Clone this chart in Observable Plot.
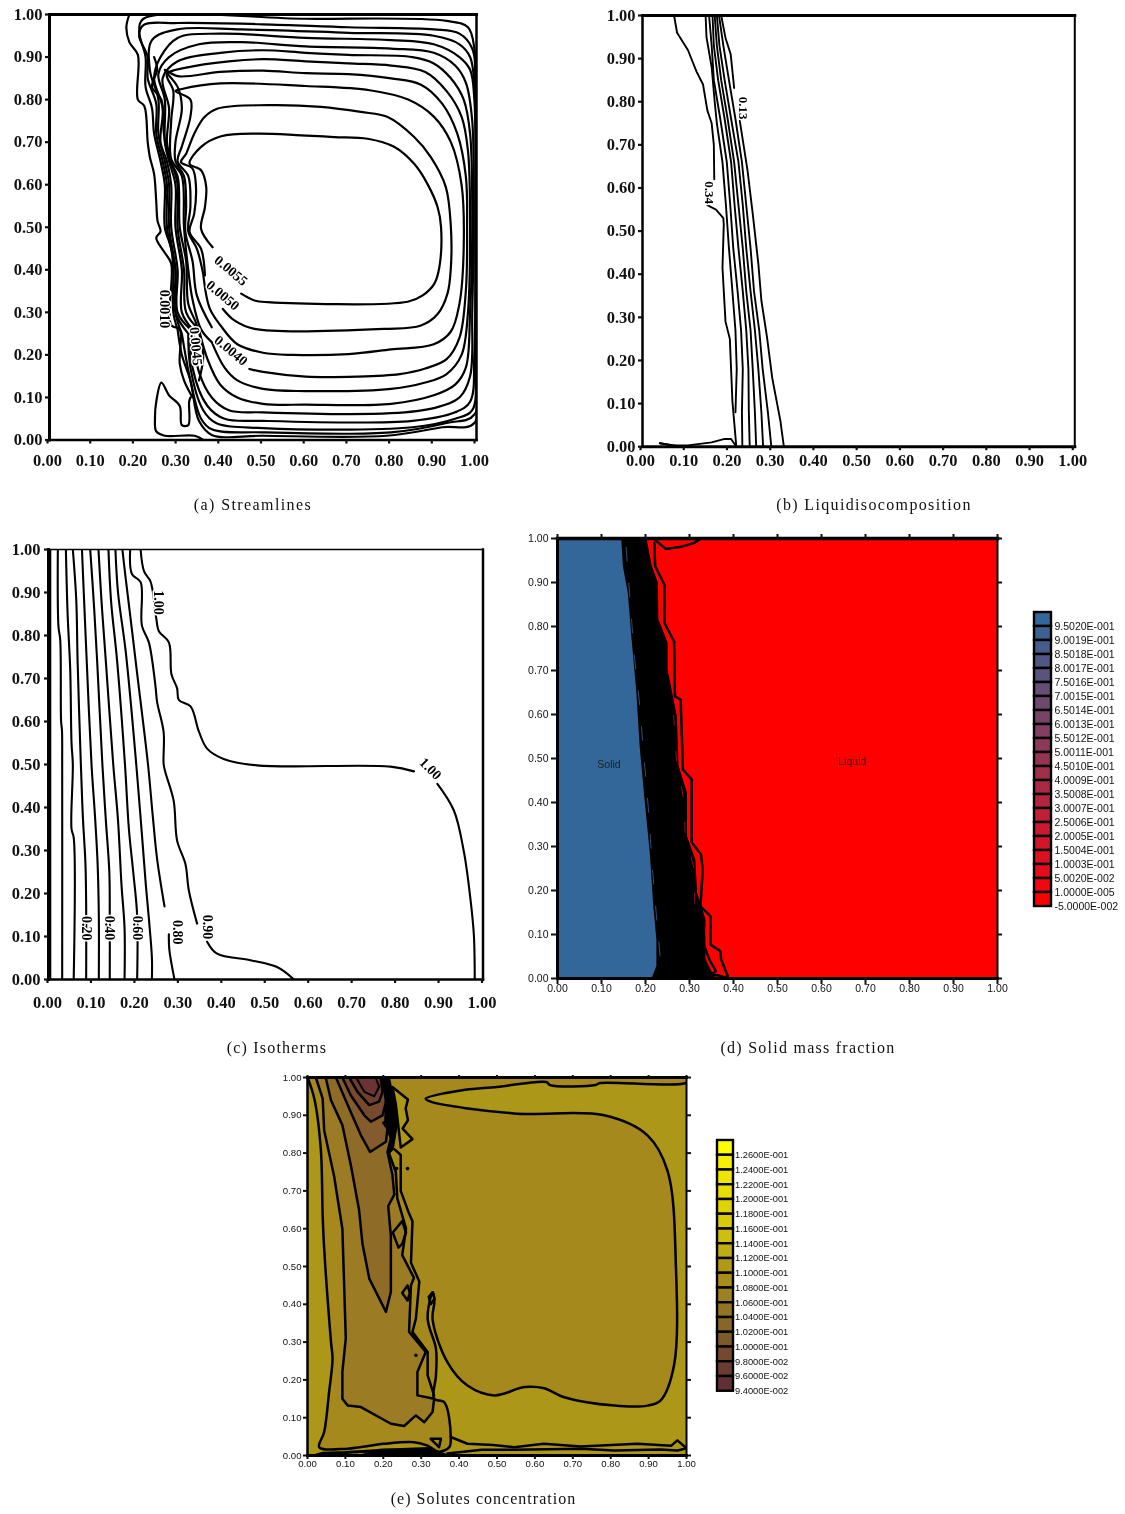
<!DOCTYPE html>
<html><head><meta charset="utf-8">
<script src="https://cdn.jsdelivr.net/npm/d3@7"></script>
<script src="https://cdn.jsdelivr.net/npm/@observablehq/plot@0.6"></script>
<style>
html,body{margin:0;padding:0;background:#fff}
#page{position:relative;width:1125px;height:1514px;overflow:hidden;filter:blur(.4px)}
#page svg{position:absolute;overflow:visible;background:transparent}
.cap{position:absolute;font-family:"Liberation Serif",serif;font-size:16px;line-height:18px;color:#111;white-space:nowrap;transform:translateX(-50%)}
</style></head><body><div id="page"></div>
<script>
const tickValues=[0,.1,.2,.3,.4,.5,.6,.7,.8,.9,1];

/* (a) Streamlines */
const aOuter=[[.187,1],[.18,.97],[.187,.935],[.207,.905],[.207,.8],[.222,.785],[.23,.7],[.235,.665],[.245,.625],[.25,.56],[.253,.515],[.26,.49],[.25,.475],[.27,.44],[.285,.415],[.285,.27],[.305,.26],[.305,.18],[.315,.14],[.335,.1]];
const aBump=[[.33,.1],[.327,.09],[.325,.035],[.31,.035],[.305,.08],[.28,.105],[.262,.135],[.25,.09],[.247,.05],[.25,.02],[.27,.01],[.34,.01],[.36,0]];
const aLoop1=[[.449,.344],[.48,.328],[.511,.324],[.839,.325],[.874,.34],[.901,.367],[.913,.406],[.917,.5],[.909,.547],[.885,.602],[.854,.649],[.807,.689],[.745,.708],[.667,.712],[.589,.716],[.488,.72],[.402,.714],[.355,.689],[.328,.649],[.355,.634],[.367,.595],[.364,.547],[.355,.496],[.382,.453]];
const aLoop2=[[.406,.308],[.433,.281],[.48,.261],[.784,.261],[.87,.269],[.909,.296],[.932,.344],[.94,.406],[.94,.5],[.928,.595],[.893,.665],[.854,.712],[.792,.759],[.729,.771],[.636,.783],[.511,.787],[.394,.779],[.363,.759],[.339,.72],[.32,.673],[.308,.653],[.335,.638],[.343,.595],[.339,.532],[.328,.489],[.355,.449],[.364,.387]];
const aLoop3=[[.36,.39],[.375,.31],[.4,.27],[.44,.225],[.5,.205],[.57,.2],[.7,.202],[.8,.213],[.9,.225],[.94,.255],[.96,.32],[.97,.45],[.965,.6],[.94,.7],[.9,.76],[.84,.8],[.75,.822],[.6,.832],[.4,.838],[.31,.825],[.295,.82],[.33,.8],[.33,.76],[.31,.69],[.3,.655],[.325,.62],[.33,.55],[.325,.49],[.345,.45],[.36,.39]];
const aLoop4=[[.468,.167],[.5,.16],[.6,.149],[.72,.149],[.82,.155],[.88,.168],[.93,.19],[.96,.24],[.975,.35],[.978,.5],[.975,.62],[.955,.72],[.92,.79],[.87,.835],[.8,.85],[.7,.86],[.6,.862],[.5,.868],[.4,.865],[.3,.855],[.27,.87],[.3,.83],[.31,.78],[.295,.7],[.295,.655],[.315,.62],[.32,.55],[.318,.49],[.335,.42],[.345,.34],[.38,.265]];
const aLoop5=[[.38,.23],[.41,.17],[.44,.14],[.5,.12],[.6,.115],[.8,.12],[.88,.135],[.93,.155],[.965,.2],[.98,.3],[.985,.5],[.98,.68],[.965,.76],[.93,.82],[.88,.865],[.8,.88],[.7,.885],[.6,.89],[.5,.895],[.42,.89],[.32,.875],[.275,.86],[.29,.82],[.285,.75],[.285,.66],[.31,.62],[.315,.5],[.325,.4],[.335,.33],[.355,.26],[.38,.23]];
const aLoop6=[[.35,.26],[.37,.19],[.4,.13],[.44,.1],[.5,.085],[.6,.083],[.8,.085],[.9,.105],[.95,.13],[.975,.17],[.985,.3],[.99,.5],[.985,.72],[.97,.8],[.94,.85],[.9,.885],[.85,.9],[.7,.905],[.6,.91],[.5,.916],[.4,.91],[.3,.89],[.265,.85],[.28,.78],[.275,.7],[.285,.655],[.3,.6],[.3,.5],[.315,.4],[.32,.3],[.35,.26]];
const aLoop7=[[.335,.26],[.35,.16],[.38,.1],[.42,.07],[.5,.065],[.8,.063],[.9,.075],[.96,.1],[.985,.15],[.99,.3],[.993,.5],[.99,.75],[.975,.84],[.95,.88],[.9,.91],[.8,.92],[.6,.925],[.45,.935],[.35,.93],[.28,.9],[.255,.86],[.27,.8],[.27,.7],[.28,.655],[.295,.6],[.295,.5],[.31,.4],[.31,.3],[.335,.26]];
const aLoop8=[[.33,.26],[.335,.17],[.37,.08],[.41,.05],[.5,.045],[.85,.045],[.95,.065],[.985,.09],[.995,.2],[.997,.5],[.995,.8],[.985,.87],[.96,.9],[.9,.93],[.8,.94],[.6,.945],[.4,.955],[.3,.945],[.26,.9],[.245,.85],[.265,.78],[.26,.7],[.275,.655],[.285,.6],[.285,.5],[.3,.4],[.3,.3],[.33,.26]];
const aLoop9=[[.325,.25],[.33,.17],[.36,.07],[.39,.04],[.5,.028],[.85,.03],[.95,.05],[.99,.07],[.997,.2],[.998,.5],[.997,.8],[.985,.9],[.96,.93],[.9,.95],[.7,.957],[.45,.965],[.3,.965],[.24,.94],[.235,.87],[.255,.8],[.255,.72],[.27,.655],[.28,.6],[.28,.5],[.295,.4],[.295,.3],[.325,.25]];
const aLoop10=[[.31,.25],[.33,.14],[.355,.05],[.38,.025],[.5,.018],[.8,.018],[.93,.04],[.995,.06],[.998,.3],[.997,.8],[.99,.92],[.96,.955],[.9,.965],[.7,.97],[.5,.977],[.3,.98],[.22,.975],[.21,.95],[.23,.9],[.23,.85],[.25,.79],[.25,.72],[.265,.655],[.275,.6],[.275,.5],[.295,.4],[.295,.3],[.31,.25]];
const aLoop11=[[.3,.26],[.31,.2],[.33,.14],[.35,.045],[.38,.012],[.5,.01],[.79,.01],[.92,.03],[.995,.04],[.999,.3],[.999,.8],[.995,.92],[.98,.97],[.93,.985],[.6,.99],[.22,.99],[.21,.96],[.225,.9],[.225,.83],[.24,.78],[.245,.72],[.26,.655],[.27,.6],[.27,.5],[.285,.45],[.29,.4],[.29,.3],[.3,.26]];
const aTangle=[[.245,.9],[.252,.87],[.24,.83],[.262,.8],[.268,.72],[.28,.66],[.3,.62],[.305,.5],[.32,.42],[.325,.32],[.345,.27],[.36,.2],[.35,.14]];
const streamlines=[aOuter,aBump,aLoop1,aLoop2,aLoop3,aLoop4,aLoop5,aLoop6,aLoop7,aLoop8,aLoop9,aLoop10,aLoop11,aTangle];
const aLabelText=["0.0055","0.0050","0.0040","0.0010","0.0045"];
const aLabelX=[.425,.406,.425,.269,.343];
const aLabelY=[.398,.34,.21,.308,.22];
const aLabelRotate=[40,40,40,90,85];

/* (b) Liquid isocomposition */
const bLine0=[[.073,1],[.08,.96],[.105,.92],[.125,.87],[.14,.84],[.15,.78],[.16,.75],[.165,.7],[.166,.62]];
const bLine1=[[.15,.56],[.17,.55],[.187,.53],[.188,.515],[.185,.415],[.192,.29],[.202,.25],[.208,.105],[.217,0]];
const bLine2=[[.146,1],[.148,.95],[.16,.88],[.167,.8],[.172,.75],[.185,.66],[.193,.56],[.2,.46],[.208,.36],[.215,.27],[.218,.18],[.215,.08]];
const bLine3=[[.154,1],[.16,.93],[.165,.85],[.18,.76],[.195,.66],[.203,.56],[.21,.46],[.22,.36],[.228,.27],[.232,.18],[.23,.08],[.231,0]];
const bLine4=[[.162,1],[.165,.93],[.175,.85],[.19,.76],[.205,.66],[.213,.56],[.222,.46],[.232,.36],[.24,.27],[.245,.18],[.246,.08],[.248,0]];
const bLine5=[[.167,1],[.172,.93],[.182,.85],[.197,.76],[.212,.66],[.222,.56],[.232,.46],[.24,.36],[.25,.27],[.255,.18],[.26,.08],[.263,0]];
const bLine6=[[.172,1],[.178,.93],[.19,.85],[.205,.76],[.222,.66],[.232,.56],[.24,.46],[.25,.36],[.26,.27],[.268,.18],[.275,.08],[.279,0]];
const bLine7=[[.177,1],[.187,.93],[.2,.85],[.215,.76],[.23,.66],[.24,.56],[.25,.46],[.258,.36],[.27,.27],[.278,.18],[.29,.08],[.298,0]];
const bLine8=[[.182,1],[.192,.948],[.204,.91],[.212,.832]];
const bLine9=[[.225,.756],[.243,.64],[.255,.54],[.268,.424],[.275,.339],[.288,.254],[.3,.16],[.319,.06],[.327,0]];
const bFoot=[[.04,.008],[.07,.003],[.105,.003],[.16,.01],[.19,.018],[.205,.018],[.217,0]];
const bFoot2=[[.04,.008],[.09,0]];
const isocomposition=[bLine0,bLine1,bLine2,bLine3,bLine4,bLine5,bLine6,bLine7,bLine8,bLine9,bFoot,bFoot2];
const bLabelText=["0.13","0.34"];
const bLabelX=[.233,.154];
const bLabelY=[.785,.589];
const bLabelRotate=[90,90];

/* (c) Isotherms */
const cWall=[[.003,1],[.003,0]];
const cL1=[[.0215,1],[.023,.82],[.027,.79],[.029,.6],[.031,.58],[.0315,.5],[.0315,0]];
const cL2=[[.04,1],[.044,.85],[.05,.72],[.053,.55],[.056,.5],[.053,.35],[.058,.33],[.058,0]];
const cL3=[[.056,1],[.064,.88],[.067,.74],[.0745,.5],[.079,.38],[.085,.27],[.0867,.17],[.0867,0]];
const cL4=[[.077,1],[.082,.88],[.088,.74],[.099,.5],[.107,.38],[.113,.27],[.1158,.15],[.1158,0]];
const cL5=[[.096,1],[.104,.88],[.112,.74],[.124,.5],[.132,.37],[.14,.25],[.141,.15],[.141,0]];
const cL6=[[.115,1],[.122,.88],[.132,.74],[.149,.5],[.16,.37],[.168,.22],[.175,.12],[.175,0]];
const cL7=[[.138,1],[.144,.88],[.158,.74],[.176,.5],[.185,.35],[.195,.25],[.204,.15],[.204,0]];
const cL8=[[.154,1],[.16,.9],[.178,.76],[.202,.5],[.214,.35],[.224,.22],[.232,.13],[.238,.05],[.238,0]];
const cL9a=[[.17,1],[.178,.93],[.19,.83],[.203,.72],[.229,.5],[.24,.38],[.25,.28],[.267,.17]];
const cL9b=[[.277,.105],[.278,.07],[.29,0]];
const cL10a=[[.188,1],[.192,.943],[.212,.924],[.215,.823],[.231,.784],[.246,.684],[.25,.645],[.265,.575],[.265,.501],[.269,.482],[.288,.416],[.296,.323],[.315,.269],[.323,.207],[.342,.13]];
const cL10b=[[.365,.088],[.388,.06],[.465,.045],[.526,.029],[.565,0]];
const cOneA=[[.212,1],[.22,.949],[.235,.925],[.248,.84],[.254,.81],[.277,.784],[.283,.71],[.296,.677],[.3,.65],[.327,.635],[.346,.577],[.365,.537],[.403,.513],[.48,.498],[.787,.495],[.841,.484]];
const cOneB=[[.895,.455],[.933,.393],[.956,.297],[.971,.188],[.979,.103],[.981,0]];
const isotherms=[cL1,cL2,cL3,cL4,cL5,cL6,cL7,cL8,cL9a,cL9b,cL10a,cL10b,cOneA,cOneB];
const cLabelText=["0.20","0.40","0.60","0.80","0.90","1.00","1.00"];
const cLabelX=[.0867,.141,.204,.296,.365,.253,.879];
const cLabelY=[.119,.12,.12,.11,.122,.877,.49];
const cLabelRotate=[90,90,90,90,90,90,45];

/* (d) Solid mass fraction */
const dBlue="#336699";
const dRed="#ff0000";
const dSolidEdge=[[0,1],[.147,1],[.151,.937],[.162,.877],[.17,.778],[.181,.657],[.189,.528],[.2,.407],[.212,.286],[.22,.164],[.227,.089],[.227,.028],[.216,0],[0,0]];
const dBand=[[.147,1],[.151,.937],[.162,.877],[.17,.778],[.181,.657],[.189,.528],[.2,.407],[.212,.286],[.22,.164],[.227,.089],[.227,.028],[.216,0],[.357,0],[.349,.013],[.334,.044],[.334,.134],[.315,.195],[.311,.27],[.292,.323],[.292,.422],[.273,.483],[.269,.596],[.248,.702],[.248,.763],[.227,.816],[.226,.899],[.212,.937],[.2,1]];
const dOuterContour=[[.22,.99],[.222,.937],[.243,.895],[.243,.808],[.265,.766],[.267,.641],[.28,.634],[.285,.475],[.305,.452],[.305,.309],[.326,.282],[.33,.248],[.325,.164],[.348,.141],[.348,.077],[.37,.062],[.372,.043],[.389,0]];
const dTopBlob=[[.22,.998],[.246,.976],[.28,.981],[.311,.99],[.326,1]];
const dFootLoop=[[.334,.073],[.345,.043],[.36,.017],[.349,.009],[.37,.006],[.389,0]];
const dContours=[dOuterContour,dTopBlob,dFootLoop];
const dSlitBlue=[[.156,.98],[.165,.86],[.174,.74],[.186,.63],[.197,.5],[.207,.38],[.215,.26],[.225,.14],[.236,.02]];
const dSlitRed=[[.26,.68],[.262,.63],[.27,.5],[.288,.4],[.29,.33],[.31,.25],[.312,.17],[.335,.12],[.342,.05]];
const dLabelText=["Solid","Liquid"];
const dLabelX=[.117,.67];
const dLabelY=[.485,.492];
const dLegendLabels=["9.5020E-001","9.0019E-001","8.5018E-001","8.0017E-001","7.5016E-001","7.0015E-001","6.5014E-001","6.0013E-001","5.5012E-001","5.0011E-001","4.5010E-001","4.0009E-001","3.5008E-001","3.0007E-001","2.5006E-001","2.0005E-001","1.5004E-001","1.0003E-001","5.0020E-002","1.0000E-005","-5.0000E-002"];
const dLegendColors=["#336699","#3d6192","#475c8b","#515784","#5b527d","#654d76","#6f486f","#794368","#833e61","#8d395a","#973353","#a12e4c","#ab2945","#b5243e","#bf1f37","#c91a30","#d31529","#dd1022","#e70b1b","#f10614","#ff0000"];

/* (e) Solutes concentration */
const eBright="#ad9719";
const eMid="#a5891d";
const eTan="#9b7b24";
const eBrown="#8e6c28";
const eCocoa="#835b2c";
const eUmber="#78492f";
const eMaroon="#703d33";
const eDeep="#6b3336";
const eP1=[[0,1],[.018,.944],[.035,.812],[.04,.635],[.044,.547],[.062,.3],[.066,.256],[.057,.168],[.044,.062],[.031,.022],[.106,.018],[.202,.031],[.281,.035],[.317,.026],[.345,.01],[.374,.022],[.378,.049],[.361,.141],[.334,.15],[.339,.212],[.339,.282],[.317,.362],[.33,.432],[.335,.41],[.33,.36],[.369,.247],[.422,.185],[.493,.159],[.572,.181],[.624,.178],[.677,.154],[.809,.132],[.897,.132],[.932,.146],[.967,.238],[.972,.503],[.95,.753],[.897,.847],[.783,.9],[.545,.905],[.325,.936],[.312,.944],[.4,.965],[.5,.975],[.63,.988],[.64,.98],[.76,.98],[.77,.985],[1,.987],[1,1]];
const eP2=[[.022,1],[.04,.944],[.044,.86],[.07,.74],[.092,.6],[.101,.31],[.092,.221],[.092,.15],[.106,.132],[.141,.128],[.22,.084],[.255,.078],[.286,.106],[.308,.088],[.33,.115],[.334,.15],[.29,.159],[.29,.221],[.312,.274],[.268,.327],[.273,.45],[.281,.47],[.25,.53],[.26,.6],[.237,.68],[.233,.75],[.215,.8],[.21,.9],[.2,1]];
const eP3=[[.048,1],[.062,.94],[.092,.874],[.114,.77],[.136,.65],[.145,.56],[.163,.468],[.207,.38],[.22,.433],[.22,.58],[.213,.66],[.229,.69],[.224,.743],[.211,.803],[.22,.84],[.211,.865],[.198,1]];
const eP4=[[.075,1],[.106,.927],[.141,.847],[.165,.803],[.207,.83],[.211,.865],[.198,1]];
const eP5=[[.092,1],[.114,.953],[.15,.9],[.167,.883],[.198,.9],[.211,.95],[.198,1]];
const eP6=[[.11,1],[.132,.962],[.163,.927],[.189,.936],[.198,.962],[.193,1]];
const eP7=[[.128,1],[.15,.962],[.176,.95],[.189,.975],[.18,1]];
const eLoopTop=[[.224,.975],[.265,.942],[.259,.918],[.265,.887],[.251,.865],[.277,.837],[.246,.815],[.233,.93],[.224,.975]];
const eTangle=[[.198,1],[.207,.93],[.205,.89],[.22,.84],[.215,.8],[.225,.81],[.235,.87],[.233,.91],[.215,1]];
const eFootBlack=[[.14,0],[.19,.015],[.32,.02],[.37,0]];
const eFootLeft=[[.02,0],[.04,.006],[.1,.008],[.2,.014],[.3,.014]];
const eEdgeOuter=[[.23,.81],[.246,.795],[.246,.7],[.268,.64],[.277,.62],[.273,.51],[.295,.46],[.286,.362],[.277,.327],[.317,.274],[.317,.212],[.334,.159]];
const eBandTop=[[.378,.049],[.422,.031],[.49,.028],[.545,.022],[.624,.031],[.721,.024],[.87,.031],[.96,.026],[.976,.04],[1,.019]];
const eBandLow=[[.369,.005],[.46,.015],[.545,.015],[.72,.018],[.81,.013],[.93,.016],[.976,.013],[1,.019]];
const eDiamondA=[[.25,.43],[.264,.45],[.27,.43],[.264,.41],[.25,.43]];
const eDiamondB=[[.225,.59],[.25,.62],[.26,.59],[.25,.56],[.24,.55],[.225,.59]];
const eDiamondC=[[.32,.42],[.33,.432],[.335,.415],[.325,.4],[.32,.42]];
const eDiamondD=[[.325,.044],[.352,.044],[.347,.022],[.325,.044]];
const eDiamondE=[[.2,.88],[.225,.9],[.23,.87],[.215,.86],[.2,.88]];
const eOpenLines=[eEdgeOuter,eBandTop,eBandLow,eDiamondA,eDiamondB,eDiamondC,eDiamondD,eDiamondE];
const eDotX=[.235,.264,.286];
const eDotY=[.759,.759,.265];
const eLegendLabels=["1.2600E-001","1.2400E-001","1.2200E-001","1.2000E-001","1.1800E-001","1.1600E-001","1.1400E-001","1.1200E-001","1.1000E-001","1.0800E-001","1.0600E-001","1.0400E-001","1.0200E-001","1.0000E-001","9.8000E-002","9.6000E-002","9.4000E-002"];
const eLegendColors=["#ffff00","#f6ee00","#eee500","#e8dc05","#dfd205","#d8c90a","#cfbd10","#c0ab15","#b29915","#a78c1c","#9d8020","#937423","#876627","#7d5a2a","#74492e","#6a3c30","#603035"];

/* captions */
const captionTexts=["(a) Streamlines","(b) Liquidisocomposition","(c) Isotherms","(d) Solid mass fraction","(e) Solutes concentration"];

const page=document.getElementById("page");
const SERIF='"Liberation Serif",serif';
const SANS='"Liberation Sans",Arial,sans-serif';
const fmt=d3.format(".2f");
const line=(pts,w,curve="linear")=>Plot.line(pts,{x:d=>d[0],y:d=>d[1],stroke:"black",strokeWidth:w,curve,clip:true});
const poly=(pts,fill,w,curve="linear")=>Plot.line(pts.concat([pts[0]]),{x:d=>d[0],y:d=>d[1],fill,stroke:"black",strokeWidth:w,curve,clip:true});
const labels=(t,xs,ys,rs,size)=>Plot.text(t,{x:(d,i)=>xs[i],y:(d,i)=>ys[i],text:d=>d,rotate:(d,i)=>rs[i],fontSize:size,fontWeight:"bold",fontFamily:SERIF,fill:"black",stroke:"white",strokeWidth:3});

function place(svg,left,top){svg.style.left=left+"px";svg.style.top=top+"px";page.appendChild(svg);}

function panel(box,marks,o){
  const ml=50,mr=25,mt=10,mb=35;
  const svg=Plot.plot({
    width:box.r-box.l+ml+mr,height:box.b-box.t+mt+mb,
    marginLeft:ml,marginRight:mr,marginTop:mt,marginBottom:mb,
    x:{domain:[0,1],axis:null},y:{domain:[0,1],axis:null},
    style:{fontFamily:o.font,fontSize:o.size+"px",fontWeight:o.weight,color:"#111",background:"transparent"},
    marks:[
      ...marks,
      Plot.frame({anchor:"top",stroke:"black",strokeWidth:o.sides[0]}),
      Plot.frame({anchor:"right",stroke:"black",strokeWidth:o.sides[1]}),
      Plot.frame({anchor:"bottom",stroke:"black",strokeWidth:o.sides[2]}),
      Plot.frame({anchor:"left",stroke:"black",strokeWidth:o.sides[3]}),
      Plot.axisX({ticks:tickValues,tickSize:o.tick,tickPadding:o.padX,tickFormat:fmt,strokeWidth:o.tickW,dx:o.dx,anchor:"bottom",label:null}),
      Plot.axisY({ticks:tickValues,tickSize:o.tick,tickPadding:o.padY,tickFormat:fmt,strokeWidth:o.tickW,anchor:"left",label:null}),
      ...(o.box?[
        Plot.axisX({ticks:tickValues,tickSize:o.tick-1,tickFormat:()=>"",strokeWidth:o.tickW,anchor:"top",label:null}),
        Plot.axisY({ticks:tickValues,tickSize:4,tickFormat:()=>"",strokeWidth:o.tickW,anchor:"right",label:null})
      ]:[])
    ]
  });
  place(svg,box.l-ml,box.t-mt);
}

const serifAxes={font:SERIF,size:16.5,weight:"bold",tick:4,tickW:2.2,padX:10,padY:3,dx:-2};
const sansAxes={font:SANS,size:10.5,weight:"normal",tick:6,tickW:2,padX:0,padY:3,dx:0,box:true};
const smooth="catmull-rom";

panel({l:48.5,r:475.5,t:14,b:439.5},[...streamlines.map(p=>line(p,2.2,smooth)),labels(aLabelText,aLabelX,aLabelY,aLabelRotate,14)],{...serifAxes,sides:[3,2.5,2.5,3]});
panel({l:641.7,r:1074,t:14.5,b:445.7},[...isocomposition.map(p=>line(p,1.9)),labels(bLabelText,bLabelX,bLabelY,bLabelRotate,13)],{...serifAxes,padX:4,sides:[3,2,3,2.5]});
panel({l:48,r:482.5,t:549,b:979},[line(cWall,3),...isotherms.map(p=>line(p,2.1,smooth)),labels(cLabelText,cLabelX,cLabelY,cLabelRotate,14)],{...serifAxes,padX:13,padY:4,dx:-1,sides:[1.3,2.5,2.5,3]});
panel({l:557,r:997,t:537.5,b:977.5},[
  Plot.frame({fill:dRed,stroke:"none"}),
  Plot.line(dSolidEdge,{x:d=>d[0],y:d=>d[1],fill:dBlue,stroke:"none"}),
  poly(dBand,"black",2),
  Plot.line(dSlitBlue,{x:d=>d[0],y:d=>d[1],stroke:"#3d5f8c",strokeWidth:.8,strokeDasharray:"14 22"}),
  Plot.line(dSlitRed,{x:d=>d[0],y:d=>d[1],stroke:"#b01030",strokeWidth:.8,strokeDasharray:"10 26"}),
  ...dContours.map(p=>line(p,2.5)),
  Plot.text(dLabelText,{x:(d,i)=>dLabelX[i],y:(d,i)=>dLabelY[i],text:d=>d,fontSize:10.5,fontFamily:SANS,fill:"#222"})
],{...sansAxes,sides:[3.5,2,3,3]});
panel({l:306.7,r:685.7,t:1077,b:1455},[
  Plot.frame({fill:eBright,stroke:"none"}),
  poly(eP1,eMid,2.5,smooth),poly(eP2,eTan,2.5),poly(eP3,eBrown,2.5),poly(eP4,eCocoa,2.5),poly(eP5,eUmber,2.5),poly(eP6,eMaroon,2.5),poly(eP7,eDeep,2),
  poly(eLoopTop,eBright,2.5),poly(eTangle,"black",2),poly(eFootBlack,"black",2),line(eFootLeft,3),
  ...eOpenLines.map(p=>line(p,2.5)),
  Plot.dot(eDotX,{x:d=>d,y:(d,i)=>eDotY[i],r:1.8,fill:"black"})
],{...sansAxes,size:9.6,tick:4,padX:.5,padY:2,sides:[3,2,3,2.5]});

function legend(names,colors,left,top,rowH,barW,size,dx){
  const ml=2,mt=2,mr=80,mb=8;
  const rows=names.map((label,i)=>({label,color:colors[i]}));
  const svg=Plot.plot({
    width:barW+ml+mr,height:rowH*names.length+mt+mb,marginLeft:ml,marginRight:mr,marginTop:mt,marginBottom:mb,
    x:{domain:[0,1],axis:null},
    y:{domain:names,axis:null,padding:0,round:false},
    color:{type:"identity"},
    style:{fontFamily:SANS,fontSize:size+"px",color:"#111",background:"transparent"},
    marks:[
      Plot.barX(rows,{x1:()=>0,x2:()=>1,y:"label",fill:"color",stroke:"black",strokeWidth:2.4}),
      Plot.text(rows,{x:()=>1,y:"label",text:"label",textAnchor:"start",dx,dy:rowH/2,fill:"#111"})
    ]
  });
  place(svg,left-ml,top-mt);
}
legend(dLegendLabels,dLegendColors,1034,612,14,17,10.5,3);
legend(eLegendLabels,eLegendColors,717,1140,14.75,16,9.3,1.5);

function caption(i,x,y,spacing){
  const d=document.createElement("div");
  d.className="cap";d.textContent=captionTexts[i];
  d.style.left=x+"px";d.style.top=y+"px";d.style.letterSpacing=spacing+"px";
  page.appendChild(d);
}
caption(0,253,496,1.4);
caption(1,874,496,1.35);
caption(2,277,1039,1.2);
caption(3,808,1039,1.25);
caption(4,483.5,1490,1.02);
</script></body></html>
